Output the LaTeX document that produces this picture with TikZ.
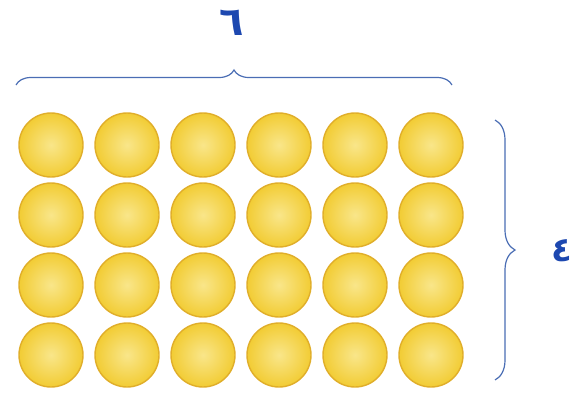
\documentclass[tikz,border=0pt]{standalone}
\usepackage{fontspec}
\newfontfamily\arabicfont[Script=Arabic]{DejaVu Sans}
\TeXXeTstate=1
\usetikzlibrary{decorations.pathreplacing}
\definecolor{bracecol}{HTML}{4A6DB4}
\definecolor{labelcol}{HTML}{1D48B0}
\definecolor{ballin}{HTML}{F9E68A}
\definecolor{ballout}{HTML}{F2CC34}
\definecolor{balledge}{HTML}{E0AE2A}
\tikzset{
  ball/.style={circle, minimum size=64pt, inner sep=0pt, draw=balledge, line width=1.4pt,
    inner color=ballin, outer color=ballout},
  bracepath/.style={draw=bracecol, line width=1.2pt, decorate},
  numlabel/.style={text=labelcol, font=\arabicfont\bfseries, inner sep=0pt}
}
\begin{document}
\begin{tikzpicture}[x=1pt,y=-1pt]
\useasboundingbox (0,0) rectangle (572,394);
\foreach \r/\y in {1/145,2/215,3/285,4/355}{
  \foreach \c/\x in {1/51,2/127,3/203,4/279,5/355,6/431}{
    \node[ball] (b\r\c) at (\x,\y) {};
  }
}
\coordinate (tl) at (16,85);
\coordinate (tr) at (452,85);
\coordinate (rt) at (495,120);
\coordinate (rb) at (495,380);
\draw[bracepath, decoration={brace, amplitude=15pt}] (tl) -- (tr);
\draw[bracepath, decoration={brace, amplitude=20pt}] (rt) -- (rb);
\node[numlabel, font=\arabicfont\bfseries\fontsize{40}{44}\selectfont] (six) at (232,23) {\beginR ٦\endR};
\node[numlabel, font=\arabicfont\bfseries\fontsize{34}{38}\selectfont] (four) at (562,251) {\beginR ٤\endR};
\end{tikzpicture}
\end{document}
